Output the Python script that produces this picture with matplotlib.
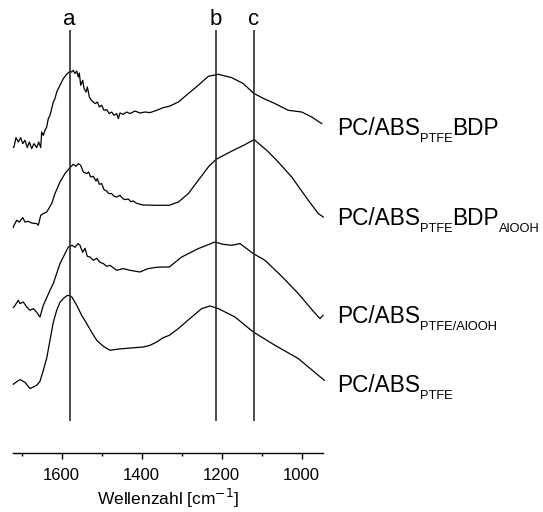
import matplotlib

matplotlib.use("Agg")

import matplotlib.pyplot as plt
from matplotlib.ticker import MultipleLocator

plt.rcParams["font.family"] = ["Liberation Sans", "DejaVu Sans"]

# IR spectra, intensities in stacked (offset) arbitrary units
wn_bdp = [1721, 1719.3, 1714.3, 1708.5, 1702.5, 1697.5, 1691.8, 1686, 1681, 1675,
          1669.3, 1662.5, 1657.5, 1652.5, 1650, 1646, 1641.8, 1637.5, 1633.5, 1629.3,
          1625, 1621, 1616.8, 1612.5, 1604.3, 1596, 1587.5, 1579.3, 1575, 1571,
          1566.8, 1562.5, 1558.5, 1556, 1552.5, 1547.5, 1544, 1539, 1535.8, 1530.8,
          1525.8, 1520.8, 1515.8, 1510.8, 1505.8, 1500, 1494.3, 1487.5, 1481, 1475,
          1469.3, 1462.5, 1458.5, 1454.3, 1446, 1437.5, 1429.3, 1416.8, 1404.3, 1391.8,
          1379.3, 1362.5, 1346, 1331, 1308.3, 1283.5, 1258.5, 1233.5, 1208.5, 1175,
          1146, 1121, 1100, 1066.8, 1033.5, 1000, 975, 950]
int_bdp = [306, 306.3, 315.7, 311.3, 315.7, 309.7, 313, 305.7, 311.3, 304.7,
           309.7, 305.7, 311.3, 305.7, 321.3, 318, 323, 326.3, 334.7, 338,
           344.7, 351.3, 354.7, 361.3, 368, 374.7, 379, 382, 381.3, 383,
           379.7, 382.3, 376.3, 380.3, 368, 373, 364.7, 361.3, 366.3, 356.3,
           353, 351.3, 349.7, 351.3, 346.3, 348, 343, 343.7, 339.7, 341.3,
           338, 339.7, 334.7, 340.3, 339, 341.3, 339.7, 342.3, 340.3, 341.3,
           340.7, 343, 345.7, 347, 351.3, 359.7, 368, 377, 379, 375.7,
           369.7, 360.3, 355.7, 349.7, 343, 341.3, 336.3, 329.7]

wn_bdp_alooh = [1721, 1719.3, 1712.5, 1706, 1697.5, 1691.8, 1683.5, 1675, 1662.5, 1658.5,
                1652.5, 1646, 1637.5, 1625, 1616.8, 1604.3, 1591.8, 1579.3, 1571, 1564.3,
                1558.5, 1552.5, 1546, 1537.5, 1532.5, 1527.5, 1521, 1514.3, 1511, 1506,
                1500, 1494.3, 1487.5, 1482.5, 1475, 1469.3, 1462.5, 1454.3, 1447.5, 1441.8,
                1433.5, 1427.5, 1421, 1414.3, 1404.3, 1396, 1362.5, 1331, 1308.3, 1283.5,
                1258.5, 1233.5, 1214, 1171, 1145, 1119, 1087.5, 1062.5, 1025, 983.5,
                958.5, 946]
int_bdp_alooh = [226, 228, 233, 231.3, 235.7, 231.3, 232, 230.3, 229.7, 228,
                 238, 239.7, 241.3, 249.7, 259.7, 271.3, 279.7, 285.7, 289, 287,
                 289.7, 288, 281.3, 279.7, 281.3, 276.3, 277, 272.3, 274.7, 269,
                 269.7, 263.7, 262.3, 259.7, 259.7, 257, 256.3, 258, 254.7, 253.7,
                 254.3, 251.7, 252.3, 250.3, 249, 248.3, 248, 248, 251.3, 259.7,
                 273, 286.3, 294, 303, 308, 313.7, 303, 293, 276.3, 253,
                 239.7, 236.3]

wn_ptfe_alooh = [1721, 1719.3, 1708.5, 1704.3, 1696, 1687.5, 1679.3, 1671, 1662.5, 1654.3,
                 1646, 1629.3, 1621, 1604.3, 1596, 1583.5, 1574, 1566.8, 1559.3, 1554.3,
                 1547.5, 1541.8, 1536, 1529.3, 1521, 1512.5, 1504.3, 1496, 1487.5, 1479.3,
                 1462.5, 1446, 1429.3, 1404.3, 1384.3, 1362.5, 1346, 1331, 1300, 1258.5,
                 1216.8, 1196.8, 1175, 1154.3, 1121, 1091.8, 1050, 1008.5, 971, 954.3, 946.8]
int_ptfe_alooh = [146, 146.3, 153, 149.7, 151.3, 146.3, 143, 144.7, 141, 136.3,
                  148, 163, 169.7, 189.7, 196.3, 206.3, 208, 206, 209.7, 208,
                  201, 205, 197, 196.3, 193, 195, 191, 189.7, 187, 188,
                  183, 184.7, 183, 181.3, 184.7, 186, 186.3, 186.3, 196.3, 204.7,
                  211.3, 209, 208, 209.7, 199.7, 193, 177, 159.7, 142, 134.7, 138]

wn_ptfe = [1721, 1719.3, 1704.3, 1691.8, 1679.3, 1662.5, 1654.3, 1646, 1637.5, 1629.3,
           1621, 1612.5, 1604.3, 1596, 1587.5, 1581, 1574, 1562.5, 1550, 1537.5,
           1525, 1512.5, 1496, 1479.3, 1462.5, 1446, 1421, 1396, 1379.3, 1362.5,
           1346.8, 1331, 1308.5, 1275, 1250, 1229.3, 1208.5, 1166.8, 1121, 1066.8,
           1008.5, 943.5]
int_ptfe = [69, 69.7, 73.7, 71, 64.7, 68, 72, 83, 95, 113,
            131, 143, 151, 154.7, 157.5, 158, 156, 148, 138, 129.7,
            121, 113, 107, 103, 104, 104.7, 105.5, 106.3, 108, 111.3,
            115.5, 118, 124.7, 136.3, 144.7, 147.3, 144.7, 136.3, 121.3, 108,
            94.7, 73]

band_positions = [1580, 1214, 1119]
band_names = ["a", "b", "c"]

# sample labels as (text, is_subscript) pieces, with baseline pixel row
sample_labels = [
    ([("PC/ABS", False), ("PTFE", True), ("BDP", False)], 135),
    ([("PC/ABS", False), ("PTFE", True), ("BDP", False), ("AlOOH", True)], 225),
    ([("PC/ABS", False), ("PTFE/AlOOH", True)], 323),
    ([("PC/ABS", False), ("PTFE", True)], 391.5),
]

W, H = 543, 512
fig = plt.figure(figsize=(W / 100, H / 100), dpi=100)
ax = fig.add_axes([13.3 / W, (H - 453.3) / H, 310 / W, 453.3 / H])

spectra = [
    (wn_bdp, int_bdp),
    (wn_bdp_alooh, int_bdp_alooh),
    (wn_ptfe_alooh, int_ptfe_alooh),
    (wn_ptfe, int_ptfe),
]
for wn, inten in spectra:
    ax.plot(wn, inten, color="black", lw=0.9, clip_on=False)

ax.vlines(band_positions, 32, 423, color="#2b2b2b", lw=1.2)
for pos, name in zip(band_positions, band_names):
    ax.text(pos, 428, name, ha="center", va="baseline", fontsize=16)

ax.set_xlim(1721, 946)
ax.set_ylim(0, 453.3)
for side in ("left", "right", "top"):
    ax.spines[side].set_visible(False)
ax.spines["bottom"].set_linewidth(1.0)
ax.set_yticks([])
ax.xaxis.set_major_locator(MultipleLocator(200))
ax.xaxis.set_minor_locator(MultipleLocator(100))
ax.tick_params(axis="x", which="major", direction="out", length=4.5, width=1.0,
               labelsize=12, pad=6)
ax.tick_params(axis="x", which="minor", direction="out", length=2.5, width=1.0)
ax.set_xlabel("Wellenzahl [cm$^{-1}$]", fontsize=12.5, labelpad=3)

renderer = fig.canvas.get_renderer()
for pieces, baseline in sample_labels:
    x = 336.7
    for text, sub in pieces:
        y = baseline + (7.5 if sub else 0)
        t = fig.text(x / W, (H - y) / H, text, fontsize=9.3 if sub else 16.3,
                     ha="left", va="baseline")
        x += t.get_window_extent(renderer).width

fig.savefig("out.png", dpi=100, facecolor="white")
